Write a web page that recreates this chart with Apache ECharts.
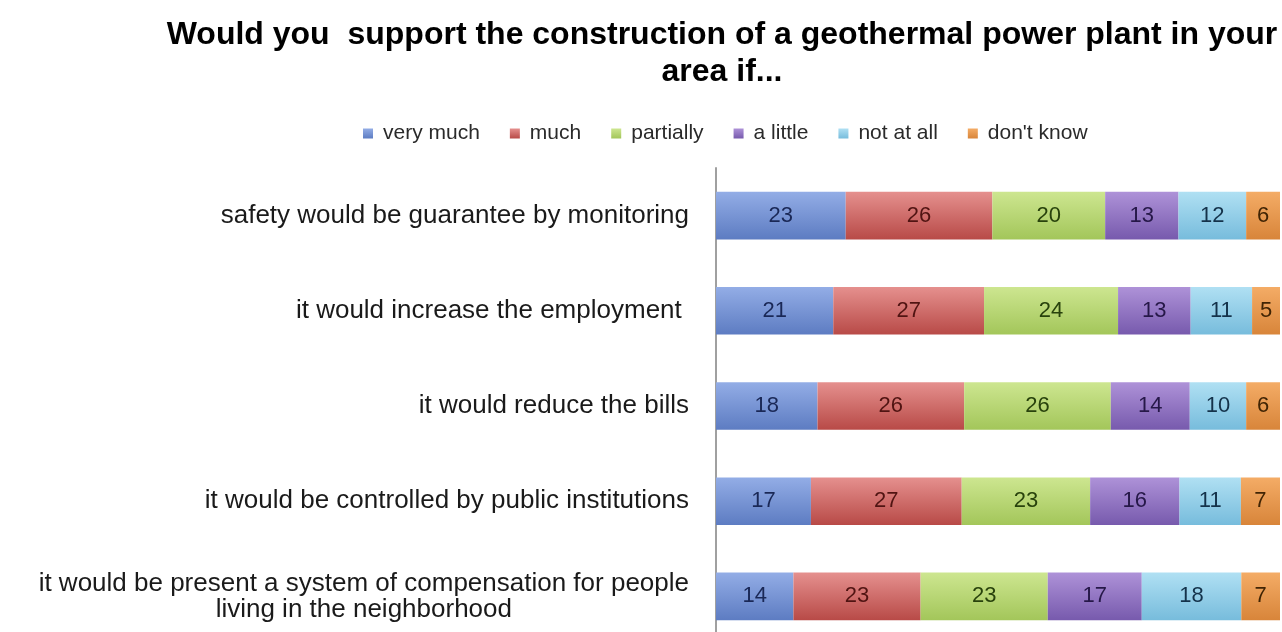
<!DOCTYPE html>
<html>
<head>
<meta charset="utf-8">
<script src="https://cdn.jsdelivr.net/npm/echarts@6/dist/echarts.min.js"></script>
<style>
  html, body { margin: 0; padding: 0; background: #ffffff; }
  #chart { width: 1282px; height: 632px; }
</style>
</head>
<body>
<div id="chart"></div>
<script>
// Survey conditions (top to bottom as drawn)
const categories = [
  'safety would be guarantee by monitoring',
  'it would increase the employment ',
  'it would reduce the bills',
  'it would be controlled by public institutions',
  'it would be present a system of compensation for people\nliving in the neighborhood'
];

// Answer shares per condition, in the same order as categories
const veryMuch  = [23, 21, 18, 17, 14];
const much      = [26, 27, 26, 27, 23];
const partially = [20, 24, 26, 23, 23];
const aLittle   = [13, 13, 14, 16, 17];
const notAtAll  = [12, 11, 10, 11, 18];
const dontKnow  = [6, 5, 6, 7, 7];

const answerNames = ['very much', 'much', 'partially', 'a little', 'not at all', "don't know"];
const answerValues = [veryMuch, much, partially, aLittle, notAtAll, dontKnow];

// Fill colours (top, bottom of the bar gradient) and label colours per answer
const palette = [
  { top: '#93ade6', bottom: '#5d7cc2', legend: '#6f8dd0', label: '#1a2856' },
  { top: '#e5908e', bottom: '#b84a47', legend: '#cc6462', label: '#501412' },
  { top: '#cde690', bottom: '#a3c65a', legend: '#b6d66f', label: '#28420c' },
  { top: '#ae92d8', bottom: '#775aad', legend: '#8f72c2', label: '#261848' },
  { top: '#b0e0f3', bottom: '#77bcdc', legend: '#93cfe9', label: '#14324a' },
  { top: '#f4ac66', bottom: '#d8853a', legend: '#e69a50', label: '#402404' }
];

const FONT = 'Liberation Sans, Arial, sans-serif';

// Each bar is a 100% stack: totals per condition
const totals = categories.map((_, i) =>
  answerValues.reduce((s, arr) => s + arr[i], 0));

const series = answerNames.map((name, k) => ({
  name,
  type: 'bar',
  stack: 'all',
  barWidth: '50%',
  data: answerValues[k].map((v, i) => ({ value: v / totals[i] * 100, raw: v })),
  itemStyle: {
    color: new echarts.graphic.LinearGradient(0, 0, 0, 1, [
      { offset: 0, color: palette[k].top },
      { offset: 1, color: palette[k].bottom }
    ])
  },
  label: {
    show: true,
    position: 'inside',
    fontFamily: FONT,
    fontSize: 22,
    color: palette[k].label,
    formatter: p => String(p.data.raw)
  }
}));

const chart = echarts.init(document.getElementById('chart'), null, { renderer: 'canvas' });
chart.setOption({
  animation: false,
  backgroundColor: '#ffffff',
  color: palette.map(p => p.legend),
  title: {
    text: 'Would you  support the construction of a geothermal power plant in your\narea if...',
    left: 717,
    textAlign: 'center',
    top: 12,
    textStyle: {
      fontFamily: FONT,
      fontWeight: 'bold',
      fontSize: 32,
      lineHeight: 37,
      color: '#000000'
    }
  },
  legend: {
    top: 118,
    left: 358,
    itemWidth: 10,
    itemHeight: 10,
    itemGap: 30,
    icon: 'rect',
    textStyle: {
      fontFamily: FONT,
      fontSize: 21,
      color: '#2a2a2a',
      padding: [0, 0, 0, 5]
    },
    data: answerNames
  },
  grid: {
    left: 716,
    right: 2,
    top: 168,
    height: 476,
    outerBoundsMode: 'none',
    containLabel: false
  },
  xAxis: {
    type: 'value',
    min: 0,
    max: 100,
    show: false
  },
  yAxis: {
    type: 'category',
    inverse: true,
    data: categories,
    axisLine: { show: true, lineStyle: { color: '#a0a0a0', width: 2 } },
    axisTick: { show: false },
    axisLabel: {
      margin: 27,
      fontFamily: FONT,
      fontSize: 26,
      color: '#1a1a1a',
      lineHeight: 26,
      align: 'right',
      formatter: v => {
        const lines = v.split('\n');
        return lines.length > 1 ? lines.map(l => '{c|' + l + '}').join('\n') : v;
      },
      rich: {
        c: {
          fontFamily: FONT,
          fontSize: 26,
          color: '#1a1a1a',
          align: 'center',
          lineHeight: 26
        }
      }
    }
  },
  series
});
</script>
</body>
</html>
